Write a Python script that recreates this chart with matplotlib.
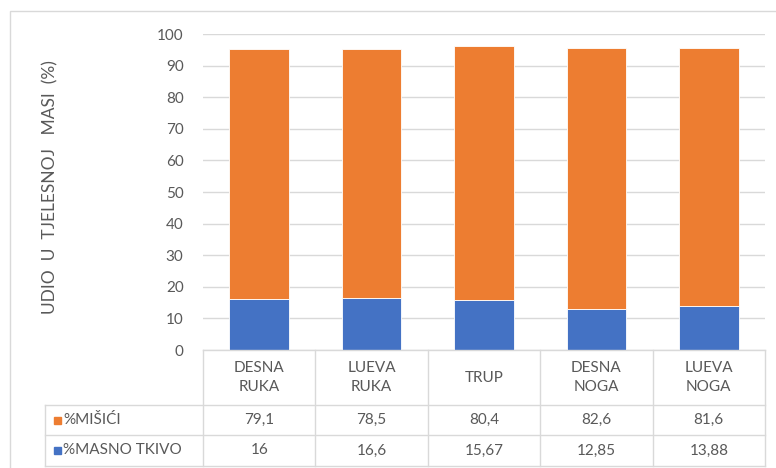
import matplotlib.pyplot as plt
import numpy as np

plt.rcParams['font.family'] = ['Lato', 'DejaVu Sans']

categories = ["DESNA\nRUKA", "LUEVA\nRUKA", "TRUP", "DESNA\nNOGA", "LUEVA\nNOGA"]
misici = [79.1, 78.5, 80.4, 82.6, 81.6]
masno = [16, 16.6, 15.67, 12.85, 13.88]
misici_txt = ["79,1", "78,5", "80,4", "82,6", "81,6"]
masno_txt = ["16", "16,6", "15,67", "12,85", "13,88"]
yticks = list(range(0, 101, 10))

c_orange = "#ED7D31"
c_blue = "#4472C4"
c_grid = "#D9D9D9"
c_text = "#595959"

W, H = 776, 468
fig = plt.figure(figsize=(W / 100, H / 100), dpi=100)

# plot area in pixels
x0, x1 = 203, 765
y_top, y_bot = 34, 350
ax = fig.add_axes([x0 / W, 1 - y_bot / H, (x1 - x0) / W, (y_bot - y_top) / H])

x = np.arange(len(categories))
ax.bar(x, masno, width=0.53, color=c_blue, edgecolor="white", linewidth=0.6, zorder=3)
ax.bar(x, misici, width=0.53, bottom=masno, color=c_orange, edgecolor="white", linewidth=0.6, zorder=3)

ax.set_xlim(-0.5, len(categories) - 0.5)
ax.set_ylim(0, 100)
ax.set_yticks(yticks)
ax.yaxis.grid(True, color=c_grid, linewidth=1, zorder=0)
ax.set_xticks([])
for s in ax.spines.values():
    s.set_visible(False)
ax.tick_params(axis='y', length=0, pad=14, labelsize=11, labelcolor=c_text)

# y label - original is widely spaced, so extra spaces between words
fig.text(50 / W, 1 - 187 / H, "UDIO  U  TJELESNOJ   MASI  (%)", rotation=90,
         ha="center", va="center", fontsize=12.5, color=c_text)

# outer chart border
fig.add_artist(plt.Rectangle((10 / W, -0.1), 1.0, 1 - 11 / H + 0.1, transform=fig.transFigure,
                             fill=False, edgecolor=c_grid, linewidth=1))

# data table
def fx(px):
    return px / W

def fy(py):
    return 1 - py / H

row_cat = (350, 405)
row_1 = (405, 435)
row_2 = (435, 466)
tab_left = 45
col_w = (x1 - x0) / len(categories)

line_kw = dict(color=c_grid, linewidth=1)
# horizontal lines
fig.add_artist(plt.Line2D([fx(x0), fx(x1)], [fy(350), fy(350)], **line_kw))
for py in (405, 435, 466):
    fig.add_artist(plt.Line2D([fx(tab_left), fx(x1)], [fy(py), fy(py)], **line_kw))
# vertical lines
for i in range(len(categories) + 1):
    px = x0 + i * col_w
    fig.add_artist(plt.Line2D([fx(px), fx(px)], [fy(350), fy(466)], **line_kw))
fig.add_artist(plt.Line2D([fx(tab_left), fx(tab_left)], [fy(405), fy(466)], **line_kw))

for i, cat in enumerate(categories):
    cx = x0 + (i + 0.5) * col_w
    fig.text(fx(cx), fy(sum(row_cat) / 2), cat, ha="center", va="center",
             fontsize=11, color=c_text, linespacing=1.5)
    fig.text(fx(cx), fy(sum(row_1) / 2), misici_txt[i], ha="center", va="center",
             fontsize=11, color=c_text)
    fig.text(fx(cx), fy(sum(row_2) / 2), masno_txt[i], ha="center", va="center",
             fontsize=11, color=c_text)

for row, label, col in ((row_1, "%MIŠIĆI", c_orange), (row_2, "%MASNO TKIVO", c_blue)):
    cy = sum(row) / 2
    fig.add_artist(plt.Rectangle((fx(54), fy(cy + 3.5)), 7 / W, 7 / H,
                                 transform=fig.transFigure, color=col))
    fig.text(fx(63), fy(cy), label, ha="left", va="center", fontsize=11, color=c_text)

fig.savefig("out.png", dpi=100)
